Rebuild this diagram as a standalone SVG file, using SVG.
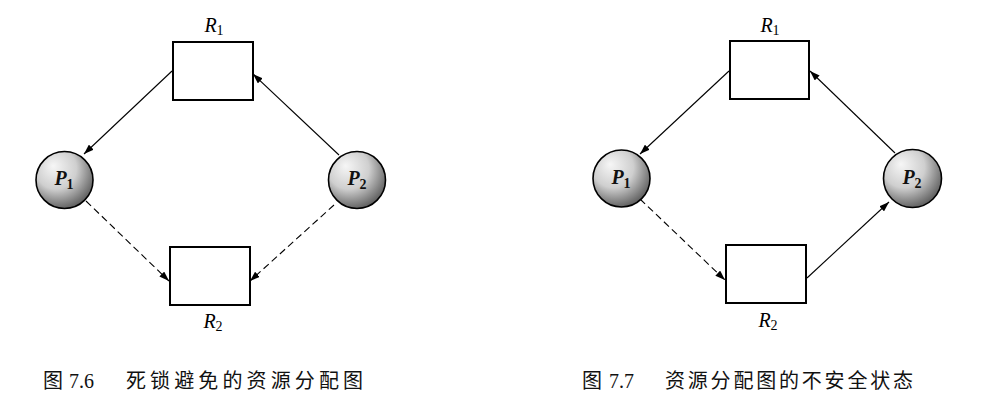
<svg xmlns="http://www.w3.org/2000/svg" width="997" height="417" viewBox="0 0 997 417">
<style>
.box{fill:#fff;stroke:#000;stroke-width:2}
.proc{fill:url(#ball);stroke:#000;stroke-width:1.6}
.edge{fill:none;stroke:#000;stroke-width:1.1;marker-end:url(#arr)}
.dash{stroke-dasharray:7 4}
.rl{font-family:"Liberation Serif",serif;font-style:italic;font-size:20px;fill:#000}
.pl{font-family:"Liberation Serif",serif;font-style:italic;font-weight:bold;font-size:20px;fill:#111}
.sub{font-size:14px;font-style:normal}
.cap{font-family:"Liberation Serif","Noto Sans CJK SC",serif;font-size:20px;fill:#111}
</style>
<defs>
<radialGradient id="ball" cx="0.4" cy="0.35" r="0.72" fx="0.3" fy="0.25">
<stop offset="0" stop-color="#f6f6f6"/>
<stop offset="0.5" stop-color="#cfcfcf"/>
<stop offset="1" stop-color="#505050"/>
</radialGradient>
<marker id="arr" markerUnits="userSpaceOnUse" markerWidth="11" markerHeight="7" refX="10" refY="3.5" orient="auto">
<path d="M0,0 L10,3.5 L0,7 z" fill="#000"/>
</marker>
</defs>

<g id="connectors">
<line class="edge" x1="172" y1="71" x2="84" y2="154"/>
<line class="edge" x1="339" y1="155" x2="253" y2="74"/>
<line class="edge dash" x1="86" y1="201" x2="169" y2="281"/>
<line class="edge dash" x1="334" y1="205" x2="250" y2="281"/>
<line class="edge" x1="729" y1="71" x2="640" y2="154"/>
<line class="edge" x1="895" y1="153" x2="810" y2="71"/>
<line class="edge dash" x1="640" y1="199" x2="725" y2="280"/>
<line class="edge" x1="807" y1="278" x2="889" y2="202"/>
</g>

<g id="L_R1"><rect class="box" x="173" y="42" width="80" height="58"/><text class="rl" x="214" y="32" text-anchor="middle">R<tspan class="sub" dy="3">1</tspan></text></g>
<g id="L_R2"><rect class="box" x="170" y="247" width="80" height="58"/><text class="rl" x="213" y="328" text-anchor="middle">R<tspan class="sub" dy="3">2</tspan></text></g>
<g id="L_P1"><circle class="proc" cx="64.5" cy="180" r="28.5"/><text class="pl" x="64" y="185" text-anchor="middle">P<tspan class="sub" dy="4">1</tspan></text></g>
<g id="L_P2"><circle class="proc" cx="357" cy="180" r="28.5"/><text class="pl" x="357" y="185" text-anchor="middle">P<tspan class="sub" dy="4">2</tspan></text></g>

<g id="R_R1"><rect class="box" x="730" y="41" width="79" height="58"/><text class="rl" x="770" y="32" text-anchor="middle">R<tspan class="sub" dy="3">1</tspan></text></g>
<g id="R_R2"><rect class="box" x="726" y="245" width="80" height="58"/><text class="rl" x="768" y="327" text-anchor="middle">R<tspan class="sub" dy="3">2</tspan></text></g>
<g id="R_P1"><circle class="proc" cx="621.5" cy="178.5" r="28.5"/><text class="pl" x="621" y="184" text-anchor="middle">P<tspan class="sub" dy="4">1</tspan></text></g>
<g id="R_P2"><circle class="proc" cx="912.5" cy="178.5" r="29"/><text class="pl" x="912" y="184" text-anchor="middle">P<tspan class="sub" dy="4">2</tspan></text></g>

<g id="captions">
<text class="cap" x="43" y="388">图</text>
<text class="cap" x="69" y="388">7.6</text>
<text class="cap" x="126" y="388" textLength="237" lengthAdjust="spacing">死锁避免的资源分配图</text>
<text class="cap" x="582" y="388">图</text>
<text class="cap" x="609" y="388">7.7</text>
<text class="cap" x="665" y="388" textLength="248" lengthAdjust="spacing">资源分配图的不安全状态</text>
</g>
</svg>
